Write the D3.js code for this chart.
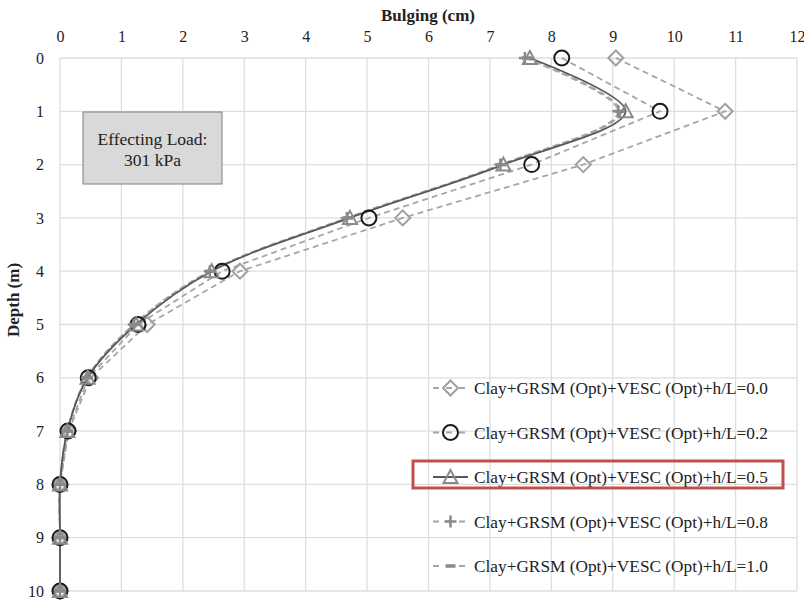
<!DOCTYPE html>
<html><head><meta charset="utf-8">
<script src="https://cdn.jsdelivr.net/npm/d3@7"></script>
<style>body{margin:0;background:#fff}svg{display:block}</style>
</head><body><svg id="c" width="804" height="600"></svg>
<script>
const depths = [0,1,2,3,4,5,6,7,8,9,10];
const s00 = [9.05,10.83,8.52,5.58,2.93,1.42,0.50,0.14,0,0,0];
const s02 = [8.17,9.77,7.68,5.03,2.64,1.27,0.46,0.13,0,0,0];
const s05 = [7.65,9.21,7.22,4.72,2.47,1.24,0.45,0.12,0,0,0];
const s08 = [7.57,9.09,7.17,4.67,2.44,1.20,0.44,0.12,0,0,0];
const s10 = [7.60,9.12,7.19,4.69,2.45,1.21,0.44,0.12,0,0,0];
const seriesNames = ["Clay+GRSM (Opt)+VESC (Opt)+h/L=0.0","Clay+GRSM (Opt)+VESC (Opt)+h/L=0.2","Clay+GRSM (Opt)+VESC (Opt)+h/L=0.5","Clay+GRSM (Opt)+VESC (Opt)+h/L=0.8","Clay+GRSM (Opt)+VESC (Opt)+h/L=1.0"];
const xTicks = [0,1,2,3,4,5,6,7,8,9,10,11,12];
const yTicks = [0,1,2,3,4,5,6,7,8,9,10];
const xTitle = "Bulging (cm)", yTitle = "Depth (m)";
const noteLines = ["Effecting Load:","301 kPa"];

const svg = d3.select("#c");
const FONT = "'Liberation Serif','Times New Roman',serif";
const x = d3.scaleLinear().domain([0,12]).range([60,797]);
const y = d3.scaleLinear().domain([0,10]).range([58,591]);

// grid
const g = svg.append("g");
g.selectAll(".vx").data(xTicks).join("line").attr("x1",d=>x(d)).attr("x2",d=>x(d)).attr("y1",y(0)).attr("y2",y(10)).attr("stroke","#dedede").attr("stroke-width",1.3);
g.selectAll(".hy").data(yTicks).join("line").attr("x1",x(0)).attr("x2",x(12)).attr("y1",d=>y(d)).attr("y2",d=>y(d)).attr("stroke","#dedede").attr("stroke-width",1.3);

// axes
const xa = svg.append("g").attr("transform",`translate(0,${y(0)})`).call(d3.axisTop(x).tickValues(xTicks).tickSize(0).tickPadding(16));
xa.select(".domain").remove();
xa.attr("font-family",FONT).attr("font-size",16);
xa.selectAll("text").attr("font-family",FONT).attr("font-size",16).attr("fill","#222");
const ya = svg.append("g").attr("transform",`translate(${x(0)},0)`).call(d3.axisLeft(y).tickValues(yTicks).tickSize(0).tickPadding(16));
ya.select(".domain").remove();
ya.attr("font-family",FONT).attr("font-size",16);
ya.selectAll("text").attr("font-family",FONT).attr("font-size",16).attr("fill","#222");

svg.append("text").attr("x",428).attr("y",21).attr("text-anchor","middle").attr("font-family",FONT).attr("font-weight","bold").attr("font-size",17).attr("fill","#222").text(xTitle);
svg.append("text").attr("transform","translate(19,300) rotate(-90)").attr("text-anchor","middle").attr("font-family",FONT).attr("font-weight","bold").attr("font-size",17).attr("fill","#222").text(yTitle);

// note box
svg.append("rect").attr("x",83).attr("y",112).attr("width",139).attr("height",72).attr("fill","#d9d9d9").attr("stroke","#7f7f7f").attr("stroke-width",1);
noteLines.forEach((t,i)=>svg.append("text").attr("x",152.5).attr("y",145+i*21).attr("text-anchor","middle").attr("font-family",FONT).attr("font-size",17.5).attr("fill","#222").text(t));

const series = [
 {vals:s00, line:"#a6a6a6", dash:"6,4", w:1.8, curve:d3.curveLinear, mk:"diamond", mc:"#a0a0a0"},
 {vals:s02, line:"#a6a6a6", dash:"6,4", w:1.8, curve:d3.curveLinear, mk:"circle", mc:"#1a1a1a"},
 {vals:s05, line:"#595959", dash:null, w:1.8, curve:d3.curveCatmullRom.alpha(0.5), mk:"triangle", mc:"#8a8a8a"},
 {vals:s08, line:"#a6a6a6", dash:"6,4", w:1.8, curve:d3.curveCatmullRom.alpha(0.5), mk:"plus", mc:"#8a8a8a"},
 {vals:s10, line:"#a6a6a6", dash:"6,4", w:1.8, curve:d3.curveCatmullRom.alpha(0.5), mk:"dash", mc:"#8a8a8a"}
];

function marker(sel, type, color, cx, cy){
  const m = sel.append("g").attr("transform",`translate(${cx},${cy})`);
  if(type==="diamond") m.append("path").attr("d","M0,-7.5L7.5,0L0,7.5L-7.5,0Z").attr("fill","none").attr("stroke",color).attr("stroke-width",2);
  if(type==="circle") m.append("circle").attr("r",7.5).attr("fill","none").attr("stroke",color).attr("stroke-width",2);
  if(type==="triangle") m.append("path").attr("d","M0,-7L7,6L-7,6Z").attr("fill","none").attr("stroke",color).attr("stroke-width",2);
  if(type==="plus") m.append("path").attr("d","M-6,0H6M0,-6V6").attr("stroke",color).attr("stroke-width",2.5);
  if(type==="dash") m.append("path").attr("d","M-5,0H5").attr("stroke",color).attr("stroke-width",3.5);
}

const plot = svg.append("g");
[0,1,3,4,2].forEach(i=>{
  const s = series[i];
  const ln = d3.line().x(d=>x(d[0])).y(d=>y(d[1])).curve(s.curve);
  const pts = depths.map((dp,j)=>[s.vals[j],dp]);
  plot.append("path").attr("d",ln(pts)).attr("fill","none").attr("stroke",s.line).attr("stroke-width",s.w).attr("stroke-dasharray",s.dash);
});
[0,1,3,4,2].forEach(i=>{
  const s = series[i];
  depths.forEach((dp,j)=>marker(plot,s.mk,s.mc,x(s.vals[j]),y(dp)));
});

// legend
const lg = svg.append("g");
seriesNames.forEach((nm,i)=>{
  const s = series[i];
  const ly = 388 + i*44.5;
  lg.append("line").attr("x1",433).attr("x2",468).attr("y1",ly).attr("y2",ly).attr("stroke",s.line).attr("stroke-width",s.w).attr("stroke-dasharray",s.dash? "6,7":null);
  marker(lg,s.mk,s.mc,450.5,ly);
  lg.append("text").attr("x",474).attr("y",ly+6).attr("font-family",FONT).attr("font-size",17.3).attr("fill","#222").text(nm);
});
lg.append("rect").attr("x",413).attr("y",461).attr("width",370).attr("height",27).attr("fill","none").attr("stroke","#c0504d").attr("stroke-width",3);
</script></body></html>
